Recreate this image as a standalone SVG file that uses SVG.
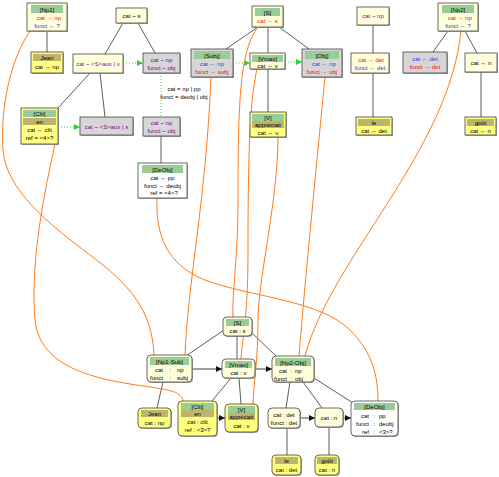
<svg xmlns="http://www.w3.org/2000/svg" width="499" height="477" viewBox="0 0 499 477">
<defs>
<style>
text{font-family:"Liberation Sans","DejaVu Sans",sans-serif;font-size:6px;text-anchor:middle;fill:#000}
.r{fill:#f00}.b{fill:#33f}.p{fill:#808}
.box{stroke:#444;stroke-width:0.8}
.sh{fill:#aaa}
.ly{fill:#ffffdc}.ye{fill:#ffff80}.gr{fill:#d6d6d6}.wh{fill:#fff}
.hg{fill:#99cc99}.ho{fill:#bdb56b}
.e{stroke:#333;stroke-width:0.8;fill:none}
.ea{stroke:#111;stroke-width:0.8;fill:none;marker-end:url(#ab)}
.dg{stroke:#44cc44;stroke-width:1;stroke-dasharray:1 2;fill:none}
.og{stroke:#ff7a1a;stroke-width:1;fill:none}
.l{text-anchor:end}.s{text-anchor:start}
</style>
<marker id="ab" viewBox="0 0 10 10" refX="10" refY="5" markerWidth="6" markerHeight="6" orient="auto" markerUnits="userSpaceOnUse"><path d="M0,0L10,5L0,10z" fill="#111"/></marker>
<marker id="ag" viewBox="0 0 10 10" refX="10" refY="5" markerWidth="6" markerHeight="6" orient="auto" markerUnits="userSpaceOnUse"><path d="M0,0L10,5L0,10z" fill="#33cc33"/></marker>
</defs>
<rect width="499" height="477" fill="#fff"/>

<g id="connectors">
<line class="e" x1="47" y1="31" x2="47" y2="52"/>
<line class="e" x1="123" y1="23" x2="105" y2="54"/>
<line class="e" x1="138" y1="23" x2="155" y2="53"/>
<line class="e" x1="90" y1="73" x2="58" y2="108"/>
<line class="e" x1="100" y1="73" x2="105" y2="117"/>
<line class="dg" x1="123" y1="63" x2="143" y2="63" marker-end="url(#ag)"/>
<line class="dg" x1="58" y1="127" x2="80" y2="127" marker-end="url(#ag)"/>
<line class="dg" x1="161" y1="73" x2="161" y2="117"/>
<line class="e" x1="161" y1="136" x2="161" y2="163"/>
<line class="e" x1="258" y1="27" x2="226" y2="49"/>
<line class="e" x1="268" y1="27" x2="268" y2="53"/>
<line class="e" x1="279" y1="27" x2="309" y2="49"/>
<line class="dg" x1="233" y1="63" x2="250" y2="63" marker-end="url(#ag)"/>
<line class="dg" x1="285" y1="62" x2="302" y2="62" marker-end="url(#ag)"/>
<line class="e" x1="268" y1="69" x2="268" y2="112"/>
<line class="e" x1="373" y1="25" x2="373" y2="53"/>
<line class="e" x1="373" y1="73" x2="373" y2="117"/>
<line class="e" x1="448" y1="31" x2="433" y2="52"/>
<line class="e" x1="465" y1="31" x2="477" y2="53"/>
<line class="e" x1="481" y1="72" x2="481" y2="117"/>

<line class="e" x1="224" y1="330" x2="186" y2="356"/>
<line class="e" x1="237" y1="336" x2="237" y2="359"/>
<line class="e" x1="251" y1="332" x2="277" y2="357"/>
<line class="ea" x1="192" y1="369" x2="222" y2="369"/>
<line class="ea" x1="255" y1="369" x2="272" y2="369"/>
<line class="e" x1="163" y1="382" x2="157" y2="408"/>
<line class="e" x1="231" y1="378" x2="212" y2="401"/>
<line class="e" x1="239" y1="378" x2="241" y2="404"/>
<line class="ea" x1="217" y1="418" x2="225" y2="418"/>
<line class="e" x1="290" y1="382" x2="286" y2="408"/>
<line class="e" x1="303" y1="382" x2="322" y2="408"/>
<line class="e" x1="314" y1="378" x2="353" y2="403"/>
<line class="ea" x1="300" y1="418" x2="315" y2="418"/>
<line class="ea" x1="343" y1="418" x2="351" y2="418"/>
<line class="e" x1="287" y1="428" x2="287" y2="455"/>
<line class="e" x1="329" y1="427" x2="329" y2="455"/>

<path class="og" d="M30,31 C10,60 0,110 3,150 C6,190 50,225 90,255 C130,285 152,310 154,355"/>
<path class="og" d="M55,144 C45,190 30,260 35,320 C40,370 100,380 150,387 C170,390 182,392 183,401"/>
<path class="og" d="M157,198 C155,245 175,268 205,280 C250,297 320,300 350,330 C372,352 378,375 378,401"/>
<path class="og" d="M211,77 C206,200 188,280 185,355"/>
<path class="og" d="M258,27 C240,50 238,100 238,200 C238,260 232,290 233,317"/>
<path class="og" d="M257,69 C250,100 248,150 248,250 C248,320 242,340 241,359"/>
<path class="og" d="M278,137 C278,200 258,280 258,320 C258,360 254,380 253,404"/>
<path class="og" d="M325,77 C318,150 305,280 299,356"/>
<path class="og" d="M461,30 C450,150 330,260 305,356"/>
</g>

<text x="184" y="91">cat = np | pp</text>
<text x="184" y="99">funct = deobj | obj</text>

<g id="np1"><rect class="sh" x="28" y="4" width="40" height="28"/><rect class="box ly" x="27" y="3" width="40" height="28"/><rect class="hg" x="31" y="5" width="32" height="8"/><text x="47" y="11.5">[Np1]</text><text class="r" x="49" y="20">cat → np</text><text class="b" x="47" y="28">funct ← ?</text></g>
<g id="jean1"><rect class="sh" x="32" y="53" width="32" height="21"/><rect class="box ye" x="31" y="52" width="32" height="21"/><rect class="ho" x="33" y="54" width="28" height="7"/><text x="47" y="60">Jean</text><text x="47" y="69">cat ↔ np</text></g>
<g id="cats"><rect class="sh" x="117" y="9" width="31" height="15"/><rect class="box ly" x="116" y="8" width="31" height="15"/><text x="131.5" y="17.5">cat ~ s</text></g>
<g id="auxv"><rect class="sh" x="74" y="55" width="50" height="19"/><rect class="box ly" x="73" y="54" width="50" height="19"/><text class="p" x="98" y="65.5">cat ~ &lt;S&gt;aux | v</text></g>
<g id="gobj1"><rect class="sh" x="144" y="54" width="37" height="20"/><rect class="box gr" x="143" y="53" width="37" height="20"/><text class="p" x="161.5" y="61.5">cat ~ np</text><text class="p" x="161.5" y="69.5">funct ~ obj</text></g>
<g id="clit1"><rect class="sh" x="22" y="109" width="37" height="36"/><rect class="box ye" x="21" y="108" width="37" height="36"/><rect class="hg" x="23" y="110" width="33" height="7"/><text x="39.5" y="116">[Clit]</text><rect class="ho" x="23" y="118" width="33" height="7"/><text x="39.5" y="124">en</text><text x="39.5" y="132">cat ↔ clit</text><text x="39.5" y="140">ref = &lt;4&gt;?</text></g>
<g id="auxs"><rect class="sh" x="81" y="118" width="53" height="18"/><rect class="box gr" x="80" y="117" width="53" height="18"/><text class="p" x="106.5" y="128.5">cat ~ &lt;S&gt;aux | s</text></g>
<g id="gobj2"><rect class="sh" x="144" y="118" width="37" height="19"/><rect class="box gr" x="143" y="117" width="37" height="19"/><text class="p" x="161.5" y="125">cat ~ np</text><text class="p" x="161.5" y="133">funct ~ obj</text></g>
<g id="deobj1"><rect class="sh" x="139" y="164" width="49" height="35"/><rect class="box wh" x="138" y="163" width="49" height="35"/><rect class="hg" x="142" y="165" width="41" height="8"/><text x="162.5" y="171.5">[DeObj]</text><text x="162.5" y="180">cat ↔ pp</text><text x="162.5" y="187.5">funct ↔ deobj</text><text x="164" y="195">ref = &lt;4&gt;?</text></g>
<g id="s1"><rect class="sh" x="253" y="7" width="31" height="21"/><rect class="box ly" x="252" y="6" width="31" height="21"/><rect class="hg" x="255" y="8" width="25" height="8"/><text x="267.5" y="14.5">[S]</text><text class="r" x="267.5" y="23">cat → s</text></g>
<g id="subj"><rect class="sh" x="192" y="50" width="42" height="28"/><rect class="box gr" x="191" y="49" width="42" height="28"/><rect class="hg" x="194" y="51" width="36" height="8"/><text x="212" y="57.5">[Subj]</text><text class="b" x="212" y="65.5">cat ← np</text><text class="r" x="212" y="73.5">funct → subj</text></g>
<g id="vmax1"><rect class="sh" x="251" y="54" width="35" height="16"/><rect class="box ly" x="250" y="53" width="35" height="16"/><rect class="hg" x="252" y="55" width="31" height="7"/><text x="267.5" y="61">[Vmax]</text><text x="267.5" y="67.5">cat ↔ v</text></g>
<g id="obj"><rect class="sh" x="303" y="50" width="40" height="28"/><rect class="box gr" x="302" y="49" width="40" height="28"/><rect class="hg" x="305" y="51" width="34" height="8"/><text x="322" y="57.5">[Obj]</text><text class="b" x="324" y="65.5">cat ← np</text><text class="r" x="322" y="73.5">funct → obj</text></g>
<g id="v1"><rect class="sh" x="251" y="113" width="36" height="25"/><rect class="box ye" x="250" y="112" width="36" height="25"/><rect class="hg" x="252" y="114" width="32" height="7"/><text x="268" y="120">[V]</text><rect class="ho" x="252" y="121" width="32" height="7"/><text x="268" y="127">appréciait</text><text x="268" y="134.5">cat ↔ v</text></g>
<g id="catnp"><rect class="sh" x="358" y="8" width="32" height="18"/><rect class="box ly" x="357" y="7" width="32" height="18"/><text class="p" x="373" y="18">cat ~ np</text></g>
<g id="det1"><rect class="sh" x="352" y="54" width="38" height="20"/><rect class="box ly" x="351" y="53" width="38" height="20"/><text class="r" x="371" y="61.5">cat → det</text><text class="b" x="370" y="69.5">funct ← det</text></g>
<g id="le1"><rect class="sh" x="357" y="118" width="36" height="18"/><rect class="box ye" x="356" y="117" width="36" height="18"/><rect class="ho" x="358" y="119" width="32" height="7"/><text x="374" y="125">le</text><text x="374" y="132.5">cat ↔ det</text></g>
<g id="np2"><rect class="sh" x="439" y="4" width="40" height="28"/><rect class="box ly" x="438" y="3" width="40" height="28"/><rect class="hg" x="442" y="5" width="32" height="8"/><text x="458" y="11.5">[Np2]</text><text class="r" x="460" y="20">cat → np</text><text class="b" x="458" y="28">funct ← ?</text></g>
<g id="gdet"><rect class="sh" x="404" y="53" width="44" height="21"/><rect class="box gr" x="403" y="52" width="44" height="21"/><text class="b" x="425" y="61">cat ← det</text><text class="r" x="425" y="69">funct → det</text></g>
<g id="catn"><rect class="sh" x="466" y="54" width="32" height="19"/><rect class="box ly" x="465" y="53" width="32" height="19"/><text x="481" y="64.5">cat ↔ n</text></g>
<g id="gout1"><rect class="sh" x="466" y="118" width="31" height="18"/><rect class="box ye" x="465" y="117" width="31" height="18"/><rect class="ho" x="467" y="119" width="27" height="7"/><text x="480.5" y="125">goût</text><text x="480.5" y="132.5">cat ↔ n</text></g>

<g id="s2"><rect class="sh" x="224" y="318" width="29" height="19" rx="4"/><rect class="box ly" x="223" y="317" width="29" height="19" rx="4"/><rect class="hg" x="226" y="319" width="23" height="7"/><text x="237.5" y="325">[S]</text><text x="237.5" y="333">cat : s</text></g>
<g id="np1sub"><rect class="sh" x="148" y="356" width="45" height="27" rx="4"/><rect class="box ly" x="147" y="355" width="45" height="27" rx="4"/><rect class="hg" x="150" y="357" width="39" height="8"/><text x="169.5" y="363.5">[Np1-Sub]</text><text class="l" x="163" y="372">cat</text><text x="170" y="372">:</text><text class="s" x="177" y="372">np</text><text class="l" x="163" y="380">funct</text><text x="170" y="380">:</text><text class="s" x="177" y="380">subj</text></g>
<g id="vmax2"><rect class="sh" x="223" y="360" width="33" height="19" rx="4"/><rect class="box ly" x="222" y="359" width="33" height="19" rx="4"/><rect class="hg" x="225" y="361" width="27" height="7"/><text x="238.5" y="367">[Vmax]</text><text x="238.5" y="375">cat : v</text></g>
<g id="np2obj"><rect class="sh" x="273" y="357" width="42" height="26" rx="4"/><rect class="box ly" x="272" y="356" width="42" height="26" rx="4"/><rect class="hg" x="275" y="358" width="36" height="8"/><text x="293" y="364.5">[Np2-Obj]</text><text class="l" x="287" y="373">cat</text><text x="291" y="373">:</text><text class="s" x="295" y="373">np</text><text class="l" x="287" y="380.5">funct</text><text x="291" y="380.5">:</text><text class="s" x="295" y="380.5">obj</text></g>
<g id="jean2"><rect class="sh" x="139" y="409" width="33" height="20" rx="4"/><rect class="box ye" x="138" y="408" width="33" height="20" rx="4"/><rect class="ho" x="141" y="410" width="27" height="7"/><text x="154.5" y="416">Jean</text><text x="154.5" y="424.5">cat : np</text></g>
<g id="clit2"><rect class="sh" x="179" y="402" width="39" height="35" rx="4"/><rect class="box ye" x="178" y="401" width="39" height="35" rx="4"/><rect class="hg" x="181" y="403" width="33" height="7"/><text x="197.5" y="409">[Clit]</text><rect class="ho" x="181" y="410" width="33" height="7"/><text x="197.5" y="416">en</text><text x="197.5" y="424">cat : clit</text><text x="197.5" y="432">ref : &lt;3&gt;?</text></g>
<g id="v2"><rect class="sh" x="226" y="405" width="33" height="28" rx="4"/><rect class="box ye" x="225" y="404" width="33" height="28" rx="4"/><rect class="hg" x="228" y="406" width="27" height="7"/><text x="241.5" y="412">[V]</text><rect class="ho" x="228" y="413" width="27" height="7"/><text x="241.5" y="419" style="font-size:5.5px">appréciait</text><text x="241.5" y="428">cat : v</text></g>
<g id="det2"><rect class="sh" x="269" y="409" width="32" height="20" rx="4"/><rect class="box ly" x="268" y="408" width="32" height="20" rx="4"/><text x="284" y="416.5">cat : det</text><text x="284" y="424.5">funct : det</text></g>
<g id="n2"><rect class="sh" x="316" y="409" width="28" height="19" rx="4"/><rect class="box ly" x="315" y="408" width="28" height="19" rx="4"/><text x="329" y="420">cat : n</text></g>
<g id="deobj2"><rect class="sh" x="352" y="402" width="47" height="35" rx="4"/><rect class="box wh" x="351" y="401" width="47" height="35" rx="4"/><rect class="hg" x="354" y="403" width="41" height="7"/><text x="374.5" y="409">[DeObj]</text><text class="l" x="369" y="417.5">cat</text><text x="374" y="417.5">:</text><text class="s" x="379" y="417.5">pp</text><text class="l" x="369" y="425.5">funct</text><text x="374" y="425.5">:</text><text class="s" x="379" y="425.5">deobj</text><text class="l" x="369" y="433.5">ref</text><text x="374" y="433.5">:</text><text class="s" x="379" y="433.5">&lt;3&gt;?</text></g>
<g id="le2"><rect class="sh" x="273" y="456" width="29" height="20" rx="4"/><rect class="box ye" x="272" y="455" width="29" height="20" rx="4"/><rect class="ho" x="275" y="457" width="23" height="7"/><text x="286.5" y="463">le</text><text x="286.5" y="471.5">cat : det</text></g>
<g id="gout2"><rect class="sh" x="316" y="456" width="24" height="20" rx="4"/><rect class="box ye" x="315" y="455" width="24" height="20" rx="4"/><rect class="ho" x="317" y="457" width="20" height="7"/><text x="327" y="463">goût</text><text x="327" y="471.5">cat : n</text></g>
</svg>
